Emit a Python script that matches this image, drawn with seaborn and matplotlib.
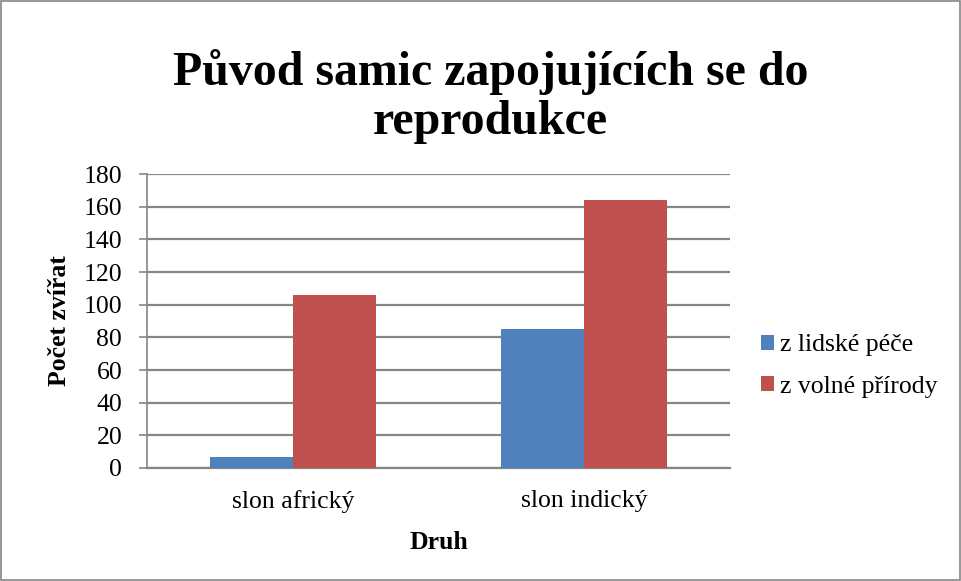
import pandas as pd
import matplotlib.pyplot as plt
import seaborn as sns
from matplotlib.patches import Rectangle

# data
druhy = ['slon africký', 'slon indický']
lidska_pece = [7, 85]
volna_priroda = [106, 164]
serie = ['z lidské péče', 'z volné přírody']

df = pd.DataFrame({
    'Druh': druhy * 2,
    'Počet': lidska_pece + volna_priroda,
    'Původ': [serie[0]] * 2 + [serie[1]] * 2,
})

sns.set_theme(style='white')
plt.rcParams['font.family'] = ['Liberation Serif', 'DejaVu Serif']
plt.rcParams['text.color'] = 'black'
plt.rcParams['axes.labelcolor'] = 'black'

fig = plt.figure(figsize=(9.62, 5.81), dpi=100)
ax = fig.add_axes([0.153, 0.1945, 0.606, 0.506])

sns.barplot(data=df, x='Druh', y='Počet', hue='Původ', ax=ax,
            palette=['#4F81BD', '#C0504D'], width=0.57, gap=0,
            saturation=1, edgecolor='none', zorder=3)

ax.set_ylim(0, 180)
ax.set_yticks(range(0, 181, 20))
ax.set_xlim(-0.5, 1.5)
ax.yaxis.grid(True, color='#868686', linewidth=1.6, zorder=0)
ax.set_axisbelow(True)
for s in ['top', 'right']:
    ax.spines[s].set_visible(False)
ax.spines['left'].set_color('#868686')
ax.spines['bottom'].set_color('#868686')
ax.spines['left'].set_linewidth(1.2)
ax.spines['bottom'].set_linewidth(1.6)
ax.tick_params(axis='y', left=True, length=6, width=1.2, color='#868686',
               labelcolor='black', labelsize=18.5, pad=12)
ax.tick_params(axis='x', bottom=False, labelcolor='black', labelsize=18.5, pad=10)

ax.set_xlabel('Druh', fontsize=18.5, fontweight='bold', labelpad=13)
ax.set_ylabel('Počet zvířat', fontsize=18.5, fontweight='bold', labelpad=9)

fig.text(0.51, 0.834, 'Původ samic zapojujících se do\nreprodukce', ha='center',
         va='center', fontsize=34.5, fontweight='bold', linespacing=1.16)

handles, labels = ax.get_legend_handles_labels()
ax.get_legend().remove()
fig.legend(handles, labels, loc='center left',
           bbox_to_anchor=(761 / 962, 1 - 366 / 581),
           frameon=False, fontsize=18.5, handlelength=0.5, handleheight=0.5,
           handletextpad=0.25, labelspacing=0.75, borderpad=0, borderaxespad=0)

fig.patches.append(Rectangle((0.001, 0.001), 0.997, 0.997, transform=fig.transFigure,
                             fill=False, edgecolor='#868686', linewidth=1.2))

fig.savefig('out.png', dpi=100)
